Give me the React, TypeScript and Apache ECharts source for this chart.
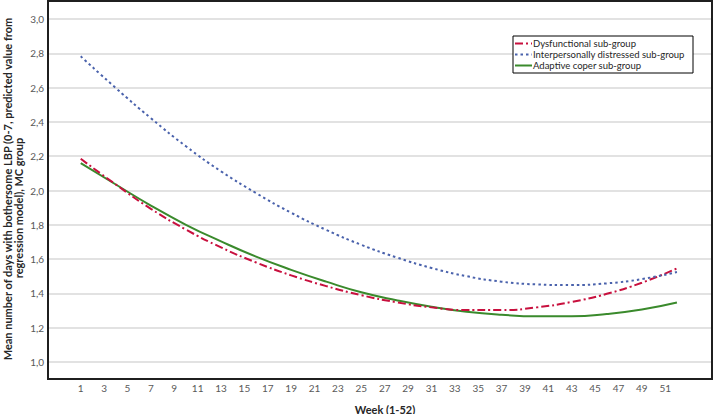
import React, { useEffect, useRef } from "react";
import * as echarts from "echarts";

const weeks = [1, 4, 7, 10, 13, 16, 19, 22, 25, 28, 31, 34, 37, 40, 43, 46, 49, 52];
const dysfunctional = [2.185, 2.035, 1.893, 1.772, 1.668, 1.58, 1.505, 1.442, 1.389, 1.348, 1.318, 1.302, 1.302, 1.318, 1.35, 1.397, 1.462, 1.545];
const interpersonal = [2.783, 2.598, 2.422, 2.258, 2.112, 1.985, 1.87, 1.77, 1.683, 1.61, 1.548, 1.5, 1.468, 1.452, 1.448, 1.458, 1.483, 1.524];
const adaptive = [2.16, 2.035, 1.912, 1.8, 1.703, 1.614, 1.537, 1.468, 1.406, 1.36, 1.322, 1.293, 1.275, 1.266, 1.266, 1.279, 1.305, 1.346];
const seriesNames = ["Dysfunctional sub-group", "Interpersonally distressed sub-group", "Adaptive coper sub-group"];
const seriesColors = ["#c8103e", "#4a62ac", "#3a8a2c"];
const seriesDash: (number[] | null)[] = [[8, 3, 2, 3], [2.5, 3], null];
const xTicks = [1, 3, 5, 7, 9, 11, 13, 15, 17, 19, 21, 23, 25, 27, 29, 31, 33, 35, 37, 39, 41, 43, 45, 47, 49, 51];
const yTicks = [1.0, 1.2, 1.4, 1.6, 1.8, 2.0, 2.2, 2.4, 2.6, 2.8, 3.0];
const xTitle = "Week (1-52)";
const yTitleLines = ["Mean number of days with bothersome LBP (0-7, predicted value from", "regression model), MC group"];

const FONT = "Lato";

export default function App() {
  const ref = useRef<HTMLDivElement>(null);
  useEffect(() => {
    if (!ref.current) return;
    const chart = echarts.init(ref.current, undefined, { renderer: "svg" });
    const pair = (vals: number[]) => weeks.map((w, i) => [w, vals[i]]);
    const values = [dysfunctional, interpersonal, adaptive];

    const legendGraphics: any[] = [
      {
        type: "rect",
        shape: { x: 513, y: 36, width: 180, height: 37 },
        style: { fill: "#ffffff", stroke: "#000000", lineWidth: 1 },
        z: 10,
      },
    ];
    seriesNames.forEach((name, i) => {
      const cy = 43.5 + i * 11;
      legendGraphics.push({
        type: "line",
        shape: { x1: 515, y1: cy, x2: 532, y2: cy },
        style: {
          stroke: seriesColors[i],
          lineWidth: 2,
          lineDash: seriesDash[i] || undefined,
        },
        z: 11,
      });
      legendGraphics.push({
        type: "text",
        x: 533,
        y: cy,
        style: {
          text: name,
          font: `9.5px ${FONT}`,
          fill: "#262626",
          textAlign: "left",
          textVerticalAlign: "middle",
        },
        z: 11,
      });
    });

    const yTitleGraphics = yTitleLines.map((t, i) => ({
      type: "text",
      x: i === 0 ? 7 : 18.5,
      y: i === 0 ? 189 : 208,
      rotation: Math.PI / 2,
      style: {
        text: t,
        font: `bold 11px ${FONT}`,
        fill: "#262626",
        textAlign: "center",
        textVerticalAlign: "middle",
      },
    }));

    chart.setOption({
      animation: false,
      backgroundColor: "#ffffff",
      grid: {
        left: 48,
        right: 2,
        top: 2,
        bottom: 35,
        show: false,
      },
      xAxis: {
        type: "value",
        min: -1.8,
        max: 55,
        axisLine: { show: false },
        axisTick: { show: false },
        splitLine: { show: false },
        axisLabel: {
          customValues: xTicks,
          color: "#595959",
          fontSize: 10,
          fontFamily: FONT,
          margin: 4,
        },
      },
      yAxis: {
        type: "value",
        min: 0.9,
        max: 3.1,
        axisLine: { show: false },
        axisTick: { show: false, customValues: yTicks },
        splitLine: { show: true, lineStyle: { color: "#d9d9d9", width: 1.5 } },
        axisLabel: {
          customValues: yTicks,
          color: "#595959",
          fontSize: 10,
          fontFamily: FONT,
          margin: 4,
          formatter: (v: number) => v.toFixed(1).replace(".", ","),
        },
      },
      series: seriesNames.map((name, i) => ({
        name,
        type: "line",
        data: pair(values[i]),
        smooth: true,
        symbol: "none",
        lineStyle: { color: seriesColors[i], width: 2, type: seriesDash[i] || "solid" },
        itemStyle: { color: seriesColors[i] },
        z: i === 2 ? 2 : 3,
      })),
      graphic: [
        {
          type: "rect",
          shape: { x: 48, y: 1, width: 664, height: 378 },
          style: { fill: "none", stroke: "#1f1f1f", lineWidth: 2 },
          z: 5,
        },
        ...legendGraphics,
        {
          type: "text",
          x: 385,
          y: 409,
          style: {
            text: xTitle,
            font: `bold 11px ${FONT}`,
            fill: "#262626",
            textAlign: "center",
            textVerticalAlign: "middle",
          },
        },
        ...yTitleGraphics,
      ],
    });
    return () => chart.dispose();
  }, []);
  return <div ref={ref} style={{ width: 714, height: 414, position: "fixed", left: 0, top: 0 }} />;
}
